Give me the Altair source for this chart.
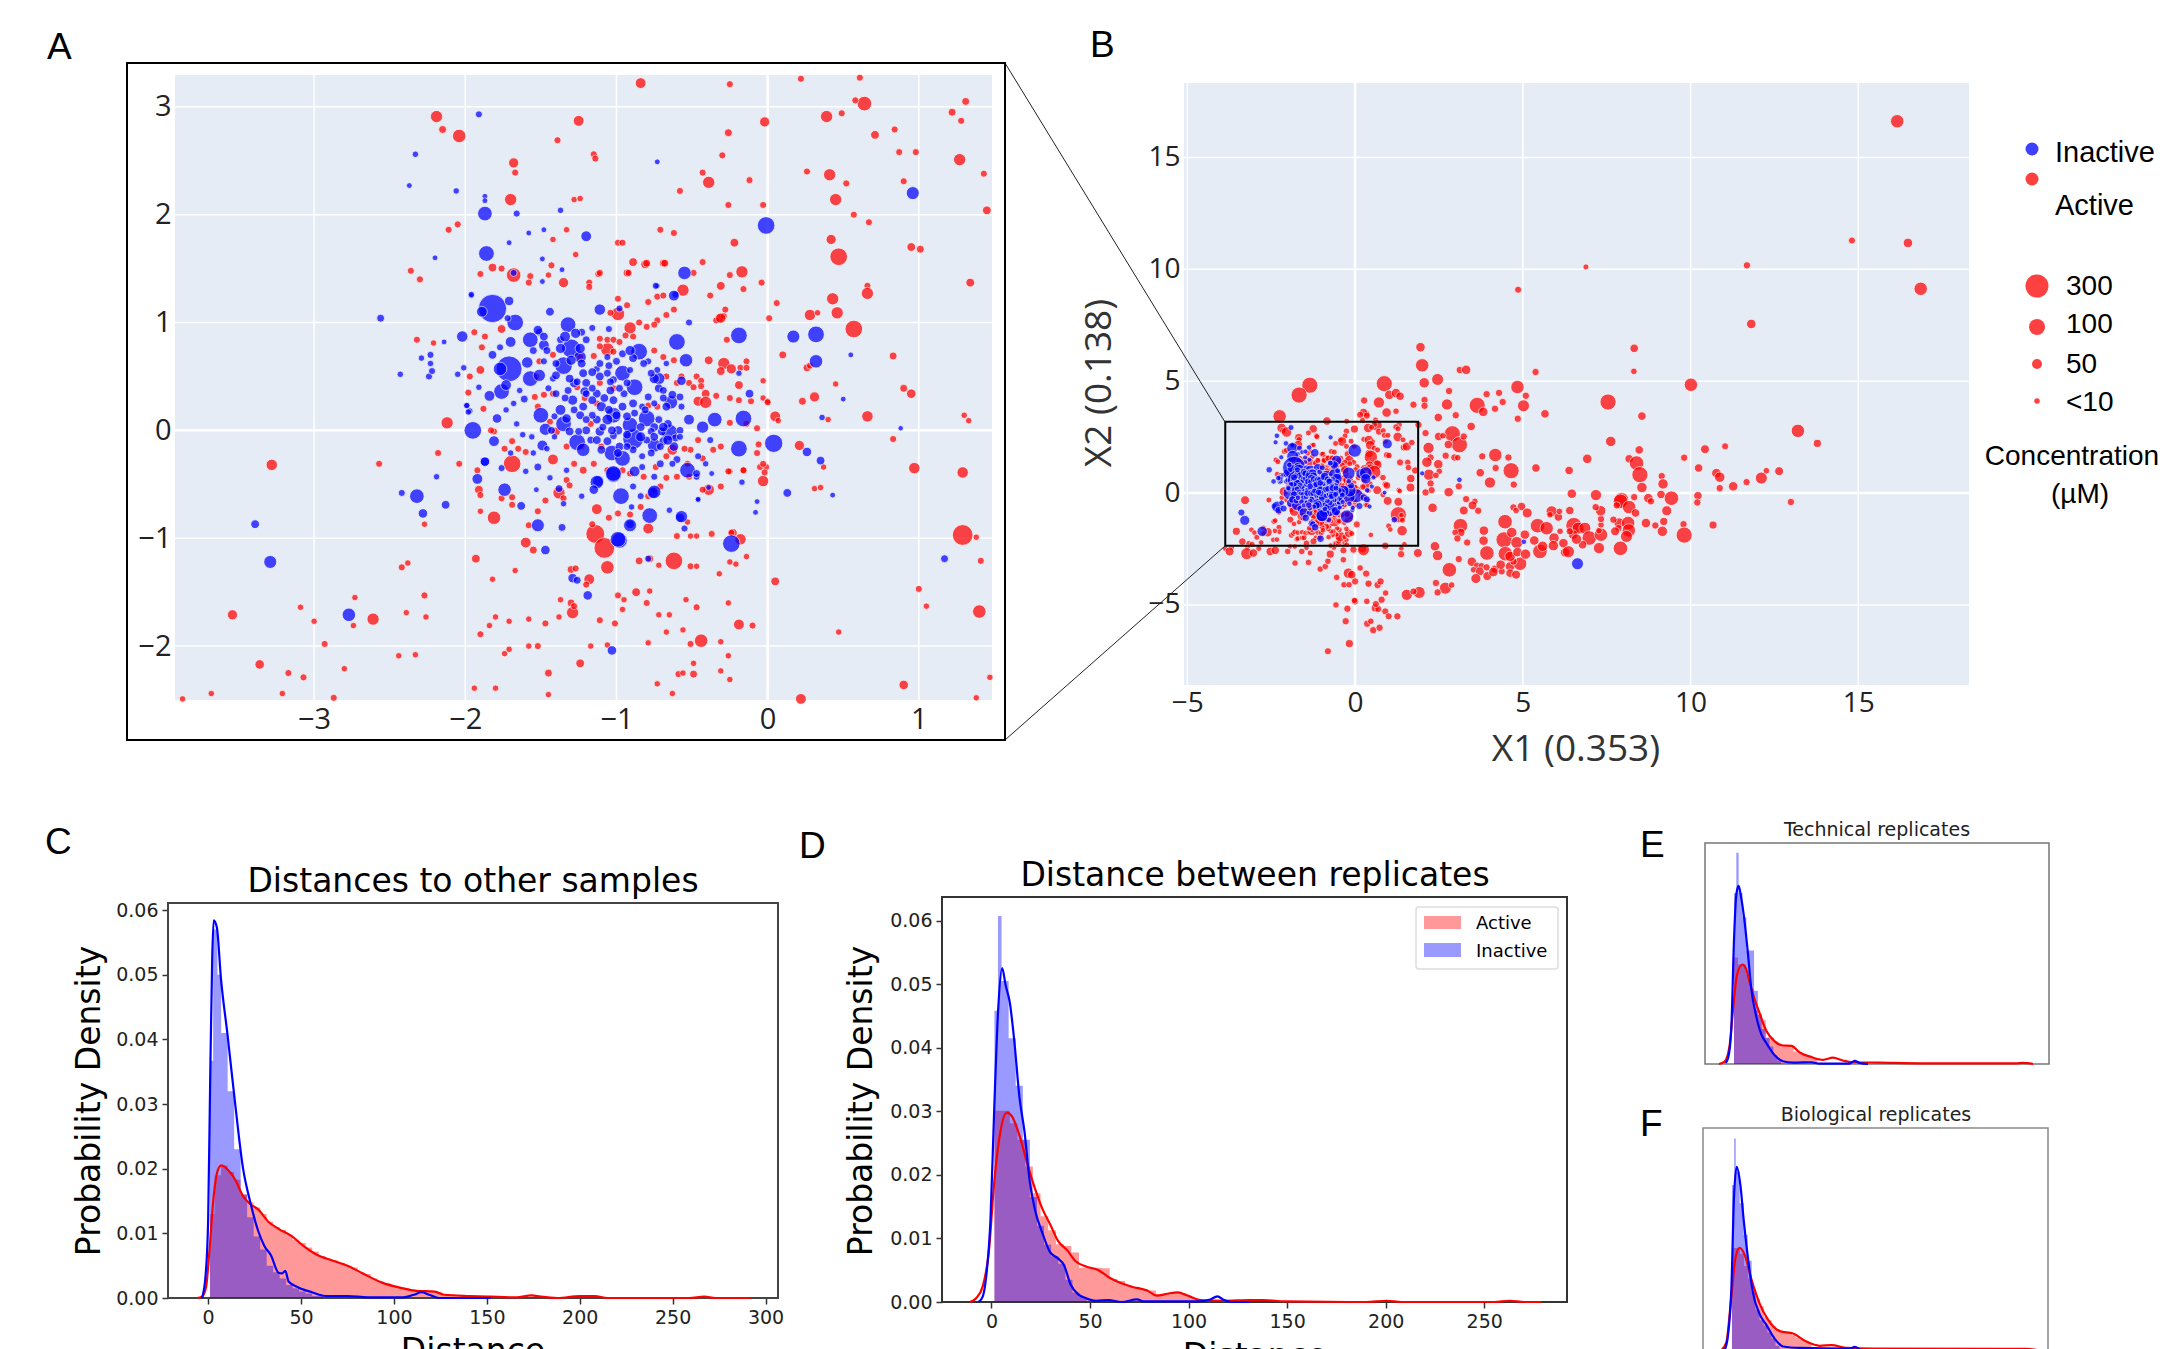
import altair as alt
import pandas as pd

W, H = 2152, 1341
RED, BLUE = "#ff0000", "#0000ff"
PANEL_BG = "#E5ECF6"

# ---------- panel A/B : embedding points (X1, X2, concentration) ----------
window_active = [
(-.84,3.22,20),(-.25,3.21,10),(.22,3.26,10),(.61,3.27,10),(.64,3.03,35),(.58,3.06,10),(.39,2.91,25),(.49,2.94,10),(1.31,3.05,12),(1.22,2.95,12),(1.28,2.87,10),
(-2.19,2.91,25),(-2.15,2.79,12),(-2.04,2.73,30),(-1.25,2.87,20),(-1.39,2.69,10),(-.02,2.86,18),(-.26,2.76,12),(.71,2.74,14),(.84,2.79,10),(.87,2.58,10),(.98,2.58,10),(1.27,2.51,25),(1.43,2.38,10),
(-1.15,2.56,10),(-1.14,2.52,10),(-1.68,2.48,18),(-1.67,2.39,10),(-.3,2.55,10),(-.43,2.39,10),(-.39,2.30,25),(-.12,2.32,10),(.26,2.40,10),(.41,2.37,25),(.52,2.29,10),(.45,2.14,25),(.9,2.31,10),(-.58,2.22,10),(-1.7,2.14,25),(-1.28,2.14,8),(-1.24,2.15,8),(-.26,2.09,10),(-.03,2.09,10),(.57,2.0,10),(.67,1.93,10),(1.45,2.04,14),
(-2.11,1.86,10),(-2.05,1.91,10),(-.71,1.86,10),(-.62,1.83,10),(-1.33,1.86,8),(-1.42,1.77,8),(-.99,1.74,10),(-.96,1.74,10),(-.22,1.74,14),(.42,1.77,18),(.47,1.61,50),(.95,1.70,14),(1.01,1.68,12),
(-2.36,1.48,10),(-2.3,1.40,10),(-1.9,1.45,10),(-1.82,1.51,14),(-1.76,1.5,10),(-1.68,1.44,35),(-1.43,1.53,10),(-1.45,1.44,8),(-1.27,1.63,8),(-1.12,1.45,10),(-.89,1.56,14),(-.81,1.54,14),(-.69,1.55,12),(-.43,1.56,10),(-.93,1.46,12),(-.25,1.44,10),(-.17,1.47,25),(-.04,1.37,10),(-.31,1.34,14),(-.16,1.31,10),(-.56,1.30,25),(1.34,1.37,14),(.66,1.34,10),(.66,1.27,25),(.43,1.22,25),(.06,1.18,10),
(.28,1.07,22),(.33,1.09,8),(.46,1.09,25),(.57,.94,50),(.01,1.04,10),(-.32,1.04,14),(-.29,1.06,10),(-2.32,.84,10),(-2.21,.81,8),(-.27,.84,10),(.1,.7,12),(.83,.69,12),(.26,.58,12),(.28,.6,10),(-.39,.65,14),(-.29,.62,25),(-.31,.55,14),(-.24,.57,18),(-.14,.64,10),(-.18,.58,10),(-.14,.58,10),(-.03,.46,8),(.45,.43,8),(.9,.39,12),(.95,.34,16),(.31,.31,18),(.23,.27,12),(-.03,.3,8),(0,.27,8),(.05,.13,20),(.07,.09,8),(.66,.13,22),(.4,.1,8),(1.3,.14,8),(1.33,.09,8),(.83,-.08,10),(.21,-.14,18),(.97,-.35,22),(1.29,-.39,22),(-.03,-.47,22),(-.05,-.34,10),(-.01,-.34,10),(-.02,-.39,10),(.37,-.34,8),(.31,-.54,8),(.35,-.53,8),(-.25,-.38,8),(1.29,-.97,75),(1.38,-.99,8),(1.41,-1.21,10),(1.0,-1.47,10),(1.05,-1.63,8),(1.4,-1.68,30),(.05,-1.40,14),(.47,-1.87,8),(.9,-2.36,16),(1.47,-2.29,8),(1.38,-2.48,8),(.22,-2.49,20),
(-3.28,-.32,22),(-2.57,-.31,10),(-2.18,-.21,10),(-2.04,-.31,10),(-2.12,.07,25),(-1.69,-.31,50),(-1.91,-.55,14),(-1.9,-.6,10),(-2.27,-.87,8),(-1.9,-.75,8),(-1.81,-.81,30),
(-1.93,-1.19,14),(-2.42,-1.27,10),(-2.38,-1.23,8),(-1.82,-1.38,8),(-1.67,-1.3,8),(-1.6,-1.04,20),(-1.55,-1.11,12),(-2.73,-1.55,8),(-2.27,-1.53,10),(-2.26,-1.73,8),(-2.39,-1.69,8),(-3.09,-1.64,8),(-3.0,-1.77,8),(-3.54,-1.71,18),(-2.61,-1.75,25),(-2.74,-1.81,8),(-2.93,-1.98,10),(-3.36,-2.17,16),(-3.17,-2.25,10),(-3.07,-2.29,10),(-2.8,-2.21,8),(-2.44,-2.09,8),(-2.33,-2.08,8),(-3.87,-2.49,8),(-3.68,-2.44,8),(-3.21,-2.44,8),(-2.87,-2.48,10),(-1.94,-2.39,8),(-1.8,-2.39,8),(-1.9,-1.89,10),(-1.84,-1.81,8),(-1.8,-1.73,8),(-1.71,-1.77,8),(-1.58,-1.75,8),(-1.47,-1.79,10),(-1.38,-1.73,8),(-1.29,-1.69,25),(-1.3,-1.6,12),(-1.28,-1.63,10),(-1.37,-1.57,8),(-1.11,-1.76,10),(-1.01,-1.79,10),(-1.74,-2.07,8),(-1.71,-2.03,8),(-1.58,-2,8),(-1.52,-2,10),(-1.17,-2,8),(-1.06,-1.99,8),(-1.24,-2.16,14),(-1.45,-2.25,12),(-1.45,-2.45,8),(-.63,-2.44,8),(-.73,-2.35,8),(-.59,-2.26,10),(-.56,-2.25,8),(-.49,-2.26,12),(-.49,-2.16,8),(-.31,-2.23,8),(-.26,-2.09,8),(-.25,-2.31,8),(-.51,-1.98,10),(-.44,-1.95,30),(-.31,-1.96,8),(-.56,-1.85,8),(-.67,-1.87,8),(-.79,-1.97,8),(-.19,-1.8,20),(-.1,-1.81,10),(-.26,-1.6,8),(-.47,-1.64,10),(-.54,-1.57,8),(-.65,-1.71,8),(-.72,-1.71,8),(-.8,-1.6,10),(-.78,-1.49,8),(-.87,-1.5,14),(-.95,-1.57,8),(-.99,-1.53,10),(-.96,-1.66,8),(-.32,-1.33,8),(-.21,-1.24,8),(-.14,-1.17,8),(-.25,-1.22,8),
(-.62,-1.21,50),(-.51,-1.26,10),(-.47,-1.26,8),(-.72,-1.25,8),(-.85,-1.21,12),(-.78,-1.19,12),(-1.14,-.96,60),(-1.08,-1.09,75),(-1.06,-1.27,30),(-1.3,-1.29,12),(-1.27,-1.28,10),(-1.18,-1.38,20),(-1.2,-1.43,10),(-.18,-1.01,22),(-.23,-.95,14),(-.51,-.98,8),(-.47,-.98,8),(-.53,-.85,8),
(-1.94,.91,10),(-1.87,.87,10),(-1.89,.77,10),(-1.76,.94,14),(-1.90,.56,14),(-1.97,.50,10),(-1.98,.35,10),(-1.88,.20,10),(-1.81,-.01,10),(-1.83,0,10),(-1.69,-.10,10),(-1.65,-.17,10),(-1.6,-.2,10),(-1.74,-.17,10),(-1.92,-.37,10),(-1.69,-.62,10),(-1.69,-.69,10),(-1.76,-.63,10),(-1.58,-.88,10),(-1.52,-.75,10),(-1.47,-.65,10),(-1.38,-.58,25),(-1.35,-.63,10),(-1.33,-.46,10),(-1.31,-.51,10),(-1.16,-.87,10),(-1.13,-.73,20),(-1.05,-.81,10),(-.99,-.77,10),(-.91,-.78,10),(-.84,-.71,10),(-.79,-.91,20),(-.6,-.98,10),(-.37,-.96,10),(-.24,-.95,10),
(-1.42,.70,10),(-1.51,.64,10),(-1.53,.50,10),(-1.48,.33,10),(-1.54,.31,10),(-1.52,.22,10),(-1.44,.08,10),(-1.40,-.01,14),(-1.42,-.27,20),(-1.22,-.37,12),(-1.28,-.31,10),(-1.33,-.15,10),(-1.23,-.15,10),(-1.10,-.15,10),(-1.15,-.31,10),(-1.06,-.37,10),(-.96,-.37,10),(-.91,-.40,10),(-.82,-.43,10),(-.74,-.34,10),(-.67,-.24,10),(-.63,-.18,20),(-.67,-.44,10),(-.6,-.43,10),(-.71,-.52,10),(-.75,-.55,10),(-.79,-.61,10),(-.39,-.55,22),(-.43,-.55,10),(-.31,-.52,10),(-.26,-.38,10),(-.16,-.37,10),(-.31,-.15,10),(-.36,-.18,10),(-.46,-.09,10),(-.51,-.18,10),(-.55,-.17,10),(-.53,-.31,10),(-.43,-.26,10),(-.52,-.43,10),
(-.91,.95,25),(-.99,1.08,30),(-1.04,1.09,10),(-.93,1.16,10),(-.99,1.22,10),(-1.06,.75,30),(-1.11,.78,10),(-1.02,.73,10),(-.79,1.19,10),(-.73,1.24,10),(-.69,1.25,10),(-.62,1.12,10),(-.67,1.07,10),(-.73,1.02,10),(-.75,.98,10),(-.8,.96,10),(-.85,1.0,10),(-.94,.88,10),(-.89,.87,10),(-1.11,.85,10),(-1.06,.84,10),(-1.02,.84,10),(-.98,.82,10),(-1.15,.69,10),(-1.24,.68,10),(-.75,.74,10),(-.69,.68,10),(-.62,.65,10),(-.67,.50,10),(-.6,.44,10),(-.52,.44,10),(-.57,.5,10),(-.73,.22,10),(-.79,.23,10),(-1.42,.34,10),(-1.26,.40,10),(-1.13,.25,10),(-1.21,.3,10),(-1.17,.06,10),(-1.11,.44,10),(-1.02,.39,10),
(-.47,.5,10),(-.44,.46,10),(-.44,.41,10),(-.49,.4,10),(-.41,.34,14),(-.46,.27,18),(-.41,.26,25),(-.34,.32,10),(-.25,.3,10),(-.19,.28,10),(-.19,.42,14),(-.11,.27,10),(0,.26,10),(-.07,.02,10),(-.14,.06,10),(-.25,.07,10),(-.16,-.37,10),(-.03,-.31,10),(-.06,-.13,10),(-.07,-.21,10),(-1.57,1.43,10),(-1.58,1.37,10),(-1.35,1.37,18),(-1.18,1.37,10),(-1.18,1.33,10),(-1.11,1.46,10),(-.92,1.46,10),(-.8,1.55,12),(-.68,1.55,12),(-.49,1.46,10),(-.38,1.25,10),(-.28,1.12,10),(-.34,1.02,10),(-.31,1.04,18),
]
window_inactive = [
(-1.91,2.93,10),(-2.33,2.56,8),(-2.37,2.27,6),(-2.06,2.22,8),(-.73,2.49,6),(-1.87,2.17,6),(-1.87,2.13,6),(-1.87,2.01,35),(-1.66,2.01,10),(-1.37,2.04,8),(-.01,1.9,50),(-1.2,1.8,20),(-1.58,1.83,6),(-1.48,1.86,6),(-1.71,1.74,6),(-2.2,1.6,6),(-1.86,1.64,40),(-1.49,1.59,6),(-1.36,1.49,6),(-1.49,1.38,6),(-1.68,1.46,10),(-.55,1.46,30),(-.73,1.34,6),(-.61,1.26,10),(.96,2.2,28),(-2.56,1.04,12),(-1.96,1.25,6),
(-.19,.88,45),(.17,.87,28),(.32,.89,45),(.32,.64,30),(.55,.7,6),(.5,.29,6),(.36,.12,8),(.88,.02,5),(.04,-.12,55),(-.19,-.17,45),(-.16,.11,45),(-.12,.34,14),(.26,-.2,16),(.35,-.28,14),(.43,-.6,6),(.13,-.58,14),(1.17,-1.19,12),(-.24,-1.05,50),(-.08,-.76,6),(-.07,-.66,6),(-.17,-.48,8),(-.39,-.53,6),(-.46,-.64,6),(-.53,-.37,40),(-.47,-.43,10),
(-3.39,-.87,14),(-3.29,-1.22,28),(-2.77,-1.71,30),(-2.42,-.58,10),(-2.32,-.61,35),(-2.28,-.77,16),(-2.13,-.69,14),(-2.19,-.43,8),(-2.43,.52,8),(-2.24,.5,10),(-2.22,.55,10),(-2.23,.62,8),(-2.23,.7,10),(-2.29,.67,8),(-2.14,.82,6),(-2.02,.87,22),(-2.05,.52,8),(-2.01,.58,8),(-1.99,.23,6),(-1.97,.18,8),(-1.95,0,50),(-1.87,-.29,16),(-1.92,-.45,20),(-1.74,-.55,30),(-1.63,-.7,14),(-1.52,-.88,28),(-1.36,-.9,12),(-1.47,-1.11,16),(-1.29,-1.37,16),(-1.26,-1.39,12),(-1.19,-1.53,16),(-1.03,-2.04,16),(-.79,-1.19,10),(-.98,-1.02,40),(-.91,-.87,14),(-.78,-.79,40),(-.58,-.81,16),(-.55,-.91,10),(-.97,-.61,45),(-.76,-.58,22),(-1.12,-.47,22),(-1.02,-.41,40),
(-1.82,1.13,300),(-1.89,1.10,20),(-1.71,1.2,16),(-1.67,1.0,45),(-1.57,.84,40),(-1.48,.79,20),(-1.44,1.1,14),(-1.32,.98,40),(-1.11,1.12,22),(-1.3,.76,60),(-1.24,.68,25),(-1.35,.6,50),(-1.71,.57,200),(-1.77,.57,30),(-1.59,.63,22),(-1.57,.48,40),(-1.51,.51,25),(-1.76,.36,40),(-1.73,.42,20),(-1.84,.32,20),(-1.79,.11,16),(-1.61,.29,12),(-1.5,.14,40),(-1.35,.06,40),(-1.47,.01,25),(-1.37,.19,20),(-1.26,-.11,45),(-1.22,-.18,30),(-1.49,-.14,20),(-1.81,-.1,20),(-1.52,-.34,12),(-1.87,-.29,16),(-1.76,-.35,10),
(-1.03,-.21,40),(-.96,-.26,40),(-1.02,-.4,40),(-1.13,-.48,30),(-1.15,-.55,16),(-.88,-.38,20),(-.75,-.57,30),(-.91,-.88,28),(-.99,-1.01,40),(-.88,.4,45),(-.85,.73,45),(-.6,.82,45),(-.54,.65,30),(-.96,.53,40),(-1.02,.14,40),(-.8,.11,45),(-.89,-.08,75),(-.91,.05,40),(-.75,-.14,30),(-.65,-.02,45),(-.64,.26,30),(-.72,.48,25),(-.57,.46,16),(-.62,1.25,20),(-.74,1.34,10),(-.35,.1,35),(-.43,.03,25),(-.52,.1,20),
(-1.2,.44,14),(-1.11,.5,14),(-1.04,.37,14),(-1.13,.34,14),(-1.21,.36,16),(-1.28,.44,16),(-1.29,.28,18),(-1.22,.22,14),(-1.28,.19,12),(-1.1,.22,18),(-1.16,.28,14),(-1.02,.28,14),(-.95,.34,12),(-1.06,.1,20),(-1.13,.1,14),(-1.11,-.01,16),(-1.2,0,14),(-1.17,-.09,12),(-.99,0,16),(-.93,-.04,14),(-1.02,-.05,12),(-1.1,-.18,14),(-.84,.03,14),(-.75,.03,14),(-.7,-.01,14),(-.72,.1,12),(-.8,-.09,12),(-.69,-.1,14),(-.61,-.07,12),(-.62,-.15,16),(-.66,.06,14),(-.58,0,12),(-.79,.31,12),(-.72,.39,14),(-.75,.25,10),(-.83,.22,10),(-.89,.25,14),(-.96,.22,14),(-.93,.44,12),(-1.02,.47,12),(-1.06,.53,12),(-1.13,.57,10),(-1.22,.53,14),(-1.26,.45,12),(-1.32,.37,12),(-1.4,.34,12),(-1.45,.39,10),(-1.42,.48,10),(-1.4,.62,12),(-1.46,.74,12),(-1.51,.91,12),(-1.55,.74,12),(-1.48,.64,10),(-1.2,.84,12),(-1.16,.95,10),(-1.23,.91,12),(-1.37,.84,12),(-1.06,.68,10),(-1,.64,12),(-.91,.56,10),(-.79,.64,10),(-.73,.56,10),(-.67,.62,8),(-.89,.67,14),(-1.05,.94,10),(-.98,1.13,10),(-.52,1.0,10),(-1.7,.82,20),(-1.77,.77,10),(-1.82,.7,14),(-1.96,1.26,8),(-1.72,1.04,10),(-1.91,.4,8),(-1.98,.17,8),(-1.99,.23,8),(-1.64,.37,8),(-1.68,.25,8),(-1.73,.19,8),(-1.66,.06,8),(-1.62,-.04,8),(-1.56,-.06,8),(-1.55,-.21,8),(-1.46,-.17,8),(-1.41,-.06,8),(-1.6,-.38,8),(-1.7,-.21,8),(-1.44,-.44,8),(-1.33,-.37,8),(-1.23,-.61,8),(-1.35,-.68,8),(-1.53,-.55,6),(-1.38,-.54,12),(-.89,-.52,10),(-.84,-.61,10),(-.9,-.71,8),(-.65,-.74,8),(-.57,-.8,25),(-.47,-.4,12),(-.41,-.31,8),(-.46,-.24,10),(-.38,-.09,10),(-.46,-.64,6),(-.37,-.4,6),(-.6,-.27,12),(-.63,-.31,10),(-.71,-.31,12),(-.77,-.21,12),(-.83,-.24,10),(-.75,-.43,10),(-.83,-.34,10),(-.19,.53,8),
(-1.52,.93,16),(-1.48,.87,14),(-1.34,.87,20),(-1.27,.9,18),(-1.37,.76,18),(-1.24,.76,18),(-1.3,.65,18),(-1.4,.51,14),(-1.31,.48,14),(-1.23,.62,14),(-1.16,.54,14),(-1.11,.62,12),(-.96,.71,12),(-1.05,.6,12),(-.91,.74,18),(-.82,.62,12),(-.75,.48,18),(-.69,.37,12),(-.63,.33,14),(-.58,.31,12),(-.69,.3,12),(-.98,.39,12),(-1.08,.3,14),(-1.24,.14,14),(-1.33,.11,16),(-1.41,.13,10),(-1.43,0,12),(-1.31,-.01,14),(-1.25,-.01,12),(-1.13,-.09,14),(-1.06,-.1,14),(-.98,-.15,14),(-.89,-.18,12),(-.93,-.15,12),(-.99,-.21,14),(-.84,-.06,18),(-.77,-.01,12),(-.75,-.06,14),(-.69,.03,16),(-.66,-.09,18),(-.71,-.15,12),(-.58,-.06,10),(-1,.14,14),(-.93,.13,14),(-1.16,.14,12),(-1.2,.1,12),(-1.05,.19,14),(-.88,.16,12),(-.81,.19,12),(-.67,.22,14),(-.57,.22,10),(-1.03,0,14),(-1.09,.03,12),(-1.2,.34,12),(-1.34,.3,12),(-1.16,.39,12),(-1.04,.45,12),(-.77,.53,12),
]
outer_active = [
(1.95,6.52,25),(2.0,5.71,50),(3.12,5.5,15),(3.31,5.51,25),(2.46,5.08,40),(2.06,4.93,30),(.87,4.89,75),(2.8,4.56,15),(1.02,4.39,25),(1.22,4.47,25),(1.34,4.33,20),(.27,4.14,15),(.71,4.05,35),(1.74,3.95,15),(2.07,4.16,15),(2.07,3.9,15),(2.74,3.96,35),(3.64,3.92,75),(3.82,3.63,25),(3.92,4.42,15),(4.29,4.48,15),(4.4,4.07,15),(4.17,3.77,15),(4.84,4.74,50),(5.09,4.35,15),(5.02,3.9,40),(5.66,3.54,20),(4.85,3.32,15),(5.38,5.41,15),(.94,3.6,25),(1.22,3.66,12),(.35,3.54,12),(2.48,3.38,20),(3,3.48,15),(7.54,4.07,75),(8.32,6.47,20),(8.31,5.44,12),(8.55,3.44,20),
(3.46,2.98,20),(2.1,2.68,15),(2.9,2.65,75),(3.11,2.16,75),(3.24,2.53,15),(2.49,2.53,20),(2.62,2.56,12),(2.78,2.17,20),(2.19,2.02,35),(2.7,1.67,15),(2.96,1.59,15),(3.06,1.58,12),(2.25,1.59,15),(2.14,1.38,30),(2.48,1.29,25),(3.79,1.64,15),(4.18,1.7,50),(4.57,1.59,15),(4.19,1.12,15),(3.73,.91,20),(4.65,1.0,75),(5.39,1.12,20),(4.02,.47,35),(4.73,.38,15),(3.09,.3,15),(2.2,.82,35),(2.51,.97,12),(2.41,.79,12),(2.25,.43,15),(2.28,.13,15),(2.1,.03,15),(2.79,.04,25),(1.66,.65,20),(1.79,1.01,15),(1.65,.25,22),(6.38,1.01,20),(6.92,1.53,25),(7.62,2.31,30),(8.47,1.93,20),(8.17,1.53,20),(8.39,1.34,60),(8.49,.82,75),(9.14,.76,15),(9.18,.41,30),(8.55,.25,30),(9.12,-.06,20),(9.43,-.23,60),(6.46,-.03,25),(7.18,-.09,35),(7.94,-.3,60),(8.32,-.18,15),(8.74,-.23,25),
(10.24,1.12,20),(10.77,.89,25),(10.87,.71,30),(10.87,.22,15),(11.27,.3,25),(11.67,.49,15),(10.22,-.12,20),(10.2,-.42,15),
(3.31,-.27,15),(3.57,-.37,12),(3.5,-.55,22),(3.67,-.79,15),(3.24,-.78,22),(2.31,-.66,25),(4.72,-.64,15),(4.96,-.6,20),(4.8,-.78,12),(5.13,-.89,28),(4.47,-1.28,60),(3.14,-1.46,60),(3.15,-1.76,20),(2.98,-1.76,12),(3.05,-2.03,15),(3.84,-1.68,25),(3.83,-2.13,25),(3.34,-2.21,15),(2.38,-2.38,25),(2.46,-2.79,30),(3.09,-2.95,15),(3.93,-2.68,60),(2.81,-3.43,60),(2.41,-4.02,15),(2.69,-4.25,40),(2.88,-4.11,12),(2.46,-4.44,15),
(3.48,-3.07,25),(3.64,-3.25,15),(3.77,-3.25,12),(3.53,-3.43,12),(3.72,-3.5,22),(3.6,-3.82,28),(3.94,-3.71,22),(3.92,-3.32,15),(4.17,-3.4,18),(4.12,-3.53,25),(4.37,-3.5,15),(4.34,-3.2,25),(4.62,-3.28,25),(4.62,-3.58,20),(4.8,-3.65,22),(4.92,-3.16,50),(4.72,-3.06,15),
(4.44,-2.09,75),(4.67,-1.76,30),(4.82,-2.21,40),(4.48,-2.71,60),(4.62,-2.83,30),(4.84,-2.64,25),(5.08,-2.73,30),(5.06,-1.86,25),(5.34,-2.12,25),(5.51,-2.61,60),(5.59,-2.38,30),(5.44,-1.46,60),(5.71,-1.57,50),(5.86,-.82,35),(5.81,-.97,12),(6.06,-1.07,20),(6.09,-.82,12),(5.93,-2.01,30),(5.91,-2.35,30),(6.21,-2.24,25),(6.11,-1.71,12),(6.26,-2.65,25),(6.36,-2.62,40),(6.52,-1.45,75),(6.65,-1.57,40),(6.5,-1.86,25),(6.85,-1.57,40),(6.98,-2.01,60),(6.78,-2.31,20),(6.4,-1.71,15),(6.6,-2.06,30),(7.33,-1.86,50),(7.27,-2.46,35),(7.27,-1.68,12),(7.33,-1.42,12),(7.33,-1.16,15),(7.32,-.79,30),(7.17,-.63,15),(6.4,-.78,20),
(7.91,-.37,60),(8.17,-.63,50),(7.8,-.55,15),(8.36,-.89,20),(8.82,-.37,15),(9.29,-.79,28),(7.87,-1.34,30),(8.14,-1.34,50),(8.16,-1.67,50),(7.85,-1.57,15),(7.75,-1.71,22),(7.7,-1.19,15),(8.09,-1.94,40),(7.91,-2.47,60),(8.67,-1.34,25),(8.95,-1.45,15),(9.2,-1.27,18),(9.16,-1.71,30),(9.79,-1.39,15),(9.81,-1.88,75),(10.67,-1.43,18),
(16.16,16.62,50),(16.86,9.13,50),(16.48,11.18,25),(14.81,11.29,14),(11.68,10.18,15),(11.81,7.56,25),(6.88,10.11,10),(4.86,9.09,14),(10.01,4.84,50),(13.2,2.78,50),(13.78,2.22,18),(11.03,2.09,14),(10.43,1.96,22),(9.81,1.58,15),(12.11,.67,40),(12.26,1,12),(12.64,.98,22),(12.99,-.4,15),
(-3.74,-2.61,22),(-3.23,-2.71,40),(-3.03,-2.68,20),(-2.53,-2.61,20),(-2.38,-2.56,20),(-2.01,-2.61,12),(-1.79,-3.13,12),(-1.59,-2.61,12),(-1.39,-3.1,12),(-1.34,-2.68,10),(-1.04,-3.4,12),(-.89,-3.28,12),(-.81,-3.05,12),(-.74,-2.73,18),(-.35,-2.56,14),(-.35,-2.98,12),(-.2,-3.58,30),(-.1,-3.65,20),(0,-3.95,15),(-.55,-3.77,12),(-.33,-4.1,12),(-.18,-4.1,12),(-.05,-2.53,15),(.25,-2.53,40),(.15,-3.35,12),(.33,-3.6,15),(.4,-4.05,15),(.67,-4.11,15),(.76,-3.95,15),(0,-4.84,15),(.35,-4.84,12),(-.57,-5,12),(-.23,-5.17,15),(.6,-5.14,18),(.79,-4.77,15),(.91,-4.47,12),(1.37,-2.73,15),(1.87,-2.68,22),(1.54,-4.55,35),(1.91,-4.44,40),(1.74,-4.4,14),
(-.81,-7.07,14),(-.17,-6.73,18),(-.28,-5.73,15),(.36,-5.84,15),(.54,-6.13,15),(.73,-6.02,15),(.47,-5.73,12),(1.26,-5.51,15),(.9,-5.29,14),(.69,-5.18,14),(.62,-4.96,14),(1.0,-5.51,14),(-.02,-4.8,12),
(1.54,2.08,22),(1.69,2.26,12),(1.57,1.37,12),(1.59,1.14,12),(1.89,3.05,15),(-2.25,3.43,50),(-1.35,4.82,75),(-1.67,4.38,75),(.25,3.6,20),(.15,3.5,14),(.35,3.46,14),
]
outer_inactive = [(3.11,.59,8),(2.0,.88,6),(6.63,-3.16,40),(5.03,-2.18,8)]

# ---------- panels C-F : density curves and histograms ----------
c_blue_x = [-3.3,-1.4,0,1.1,2.2,3,4.7,6.9,10.4,14.6,18.7,22.8,26.9,30.2,33.8,37.9,39.8,41.5,43.4,48.9,55.8,64,75,86,105,110.7,114.8,119,124.5,152]
c_blue_y = [0,.0034,.012,.0337,.0527,.0584,.0573,.0494,.0408,.0299,.0202,.0147,.0104,.0081,.0066,.0039,.0038,.0042,.0025,.0016,.0009,.0003,.0003,.0001,.0001,.0005,.0009,.0005,0,0]
c_red_x = [-6,-3.3,-1.1,.8,3,5,7.1,10.4,14.6,18.7,22.8,26.9,32.4,37.9,44.8,51.6,58.5,66.8,75,83.2,94.2,105,112,122,127,141,152,166,174,179,188,200,208,215,259,267,273,292]
c_red_y = [0,.0002,.0017,.0077,.0158,.0196,.0205,.0199,.0183,.0158,.0145,.0137,.0118,.0107,.0096,.008,.0067,.0058,.005,.0038,.0023,.0015,.0011,.001,.0005,.0003,.0002,.0001,.0004,.0002,0,.0003,.0003,0,0,.0002,0,0]
c_blue_edges = [1,2.7,5,7,10.5,14,17.5,21,24.5,28,31.5,35,38.5,42,45.5,49,52.5,56,62]
c_blue_hist = [.0367,.057,.05,.041,.032,.023,.016,.0125,.0095,.0075,.005,.004,.003,.002,.0015,.001,.0007,.0003]
c_red_edges = [1,3.5,7,10.5,14,17.5,21,24.5,28,31.5,35,38.5,42,45.5,49,52.5,56,59.5,63,66.5,70,73.5,77,80.5,84,87.5,91,94.5,98,101.5,105,108.5,112,115.5,119,122.5,126,129.5,133,140]
c_red_hist = [.013,.019,.0205,.0195,.0183,.016,.0148,.014,.013,.0118,.011,.0105,.0098,.009,.0085,.0078,.0072,.0065,.006,.0058,.0054,.005,.0047,.004,.0037,.003,.0026,.0023,.0019,.0016,.0015,.0013,.0011,.001,.001,.0009,.0006,.0005,.0003]

d_blue_x = [-6.5,-4.4,-2.6,-.5,1.3,3.4,5.4,7.2,9.3,11.6,14.2,16.8,19.4,22,25.9,29.8,33.6,36.8,40.1,44,47.9,53,59.5,66,73.8,77.6,105,111,114.6,118,121.6,131]
d_blue_y = [0,.0009,.0042,.013,.0295,.046,.0525,.0498,.0471,.041,.0322,.0267,.019,.0146,.0108,.0078,.0069,.0058,.0028,.0012,.0006,.0002,.0003,0,.0004,.0001,.0001,.0004,.0009,.0003,0,0]
d_red_x = [-11,-7.8,-4.4,-1.3,1.3,3.9,7.8,10.4,14.2,18.1,22,25.9,29.8,33.6,38.8,42.7,47.9,54.3,59.5,64.7,71.2,79,84,89.3,94.5,99.6,106,118,131,138,149,190,200.6,208,255,263,270.4,279]
d_red_y = [0,.0006,.0025,.008,.0185,.0256,.0298,.0292,.0262,.0218,.0179,.0146,.0122,.0097,.008,.0064,.0056,.005,.0039,.0031,.0024,.0018,.001,.0013,.0015,.001,.0003,.0002,.0003,.0003,.0001,0,.0002,0,0,.0002,0,0]
d_blue_edges = [1.5,3.3,5.1,8.7,12.3,15.9,19.5,23.1,26.7,30.3,33.9,37.5,41.1,44.7,48.3]
d_blue_hist = [.0458,.0607,.0505,.0415,.034,.0255,.0165,.012,.009,.0072,.006,.0035,.0015,.0008]
d_red_edges = [1.5,5.4,9.3,13.2,17.1,21,24.9,28.8,32.7,36.6,40.5,44.4,48.3,52.2,56.1,60,63.9,67.8,71.7,75.6,79.5,83.4,87.3,91.2,95.1,99,102.9,106.8,110.7]
d_red_hist = [.0301,.0301,.0281,.0255,.0213,.0171,.0135,.0113,.0091,.0088,.0078,.0054,.0054,.0054,.0053,.0036,.0033,.0026,.0022,.002,.0018,.0012,.0011,.0014,.0014,.0008,.0004,.0002]

e_blue_x = [-6.3,-3.8,-1.1,1.3,3.4,5.5,7.9,11,14,17,21.6,26.1,30.6,38.2,45.7,54.8,71.4,79,106,110.7,115.3,122.8]
e_blue_y = [.0003,.002,.0105,.0355,.0485,.051,.0475,.0405,.0315,.0215,.0135,.0085,.006,.0025,.0008,.0004,.0005,.0001,.0001,.0009,.0003,0]
e_red_x = [-12.3,-7.2,-2.6,.4,4,8.9,11.9,15.5,20,24.6,30.6,38.2,45.7,53.3,60.9,71.4,82,91,100,109,133,170,257,263.4,272.5]
e_red_y = [0,.0007,.0055,.0155,.0255,.0285,.0275,.0235,.0185,.0145,.0095,.0065,.0053,.0052,.0033,.002,.0012,.0018,.001,.0005,.0004,.0002,.0002,.0003,0]
e_blue_edges = [1.3,3.4,5.5,9,12.5,16,19.5,23,26.5,30,33.5,37,40.5,44]
e_blue_hist = [.049,.0605,.049,.042,.0325,.0325,.021,.014,.01,.0075,.005,.0025,.001]
e_red_edges = [1.3,4.9,8.5,12.1,15.7,19.3,22.9,26.5,30.1,33.7,37.3,40.9,44.5,48.1,51.7,55.3,58.9,62.5,66.1,69.7,73.3,76.9]
e_red_hist = [.0305,.0285,.0285,.0255,.0215,.0155,.0145,.0125,.0075,.0075,.0065,.0058,.0052,.0052,.0048,.0036,.003,.0026,.0022,.002,.0016]

f_blue_x = [-5.4,-2.4,.6,3.1,5.5,8.8,11.8,15.7,20.3,26.3,32.3,39.9,47.4,62.5,107.8,112.3,116.8]
f_blue_y = [0,.0042,.0172,.0442,.0524,.0472,.0372,.0262,.0162,.0102,.0072,.0032,.001,.0006,.0004,.0009,.0002]
f_red_x = [-8.4,-3.9,.6,4.3,8.2,12.7,18.8,26.3,33.8,44.4,56.5,68.5,80.6,91.2,104.8,128.9,268,277]
f_red_y = [0,.0022,.0152,.0262,.0292,.0272,.0202,.0132,.0087,.0054,.0047,.0024,.0012,.0014,.0006,.0004,.0003,0]
f_blue_edges = [1.2,3.2,4.6,8.2,11.8,15.4,19,22.6,26.2,29.8,33.4,37,40.6,44.2]
f_blue_hist = [.0472,.0605,.051,.042,.033,.0255,.0165,.0115,.0085,.007,.005,.0032,.0012]
f_red_edges = [1.2,4.8,8.4,12,15.6,19.2,22.8,26.4,30,33.6,37.2,40.8,44.4,48,51.6,55.2,58.8,62.4,66,69.6,73.2]
f_red_hist = [.0292,.0292,.0275,.024,.0205,.0172,.0145,.0125,.0095,.0085,.0068,.006,.0052,.005,.0048,.0042,.0035,.003,.0025,.002]

# ---------- ticks ----------
a_xticks = [-3,-2,-1,0,1]
a_yticks = [-2,-1,0,1,2,3]
b_xticks = [-5,0,5,10,15]
b_yticks = [-5,0,5,10,15]
c_xticks = [0,50,100,150,200,250,300]
d_xticks = [0,50,100,150,200,250]
dens_yticks = [0,.01,.02,.03,.04,.05,.06]

SIZE_DOMAIN = [5,10,25,50,75,100,300]
A_SIZE = [30,50,150,310,430,540,800]
B_SIZE = [24,36,90,180,260,340,529]


def px(v):
    return v - 8


def py(v):
    return v - 8


def pts(rows):
    return pd.DataFrame(rows, columns=["x", "y", "c"])


def rect_px(x0, x1, y0, y1, **kw):
    return alt.Chart(pd.DataFrame({"k": [0]})).mark_rect(**kw).encode(
        x=alt.value(px(x0)), x2=alt.value(px(x1)), y=alt.value(py(y0)), y2=alt.value(py(y1)))


def text_px(s, x, y, size, font, color="#000000", align="left", angle=0):
    return alt.Chart(pd.DataFrame({"t": [s]})).mark_text(
        font=font, fontSize=size, color=color, align=align, baseline="alphabetic", angle=angle
    ).encode(x=alt.value(px(x)), y=alt.value(py(y)), text="t:N")


def hline_px(x0, y0, x1, y1):
    return alt.Chart(pd.DataFrame({"k": [0]})).mark_rule(color="#222222", strokeWidth=1).encode(
        x=alt.value(px(x0)), x2=alt.value(px(x1)), y=alt.value(py(y0)), y2=alt.value(py(y1)))


def scatter_panel(active, inactive, xdom, ydom, xr, yr, xticks, yticks, sizes, lab, xlab_pad, ylab_pad, extra=None):
    X = alt.Scale(domain=xdom, range=[px(xr[0]), px(xr[1])], nice=False, zero=False)
    Y = alt.Scale(domain=ydom, range=[py(yr[1]), py(yr[0])], nice=False, zero=False)
    S = alt.Scale(domain=SIZE_DOMAIN, range=sizes)
    xaxis = alt.Axis(values=xticks, orient="bottom", offset=py(yr[1]) - H, domain=False, ticks=False, grid=False,
                     labelFont="Open Sans", labelFontSize=lab, labelColor="#222222", labelPadding=xlab_pad, format="d", title=None, labelFlush=False, labelOverlap=False)
    yaxis = alt.Axis(values=yticks, orient="left", offset=-px(xr[0]), domain=False, ticks=False, grid=False,
                     labelFont="Open Sans", labelFontSize=lab, labelColor="#222222", labelPadding=ylab_pad, format="d", title=None, labelFlush=False, labelOverlap=False)
    bg = alt.Chart(pd.DataFrame({"a": [xdom[0]], "b": [xdom[1]], "c": [ydom[0]], "d": [ydom[1]]})).mark_rect(color=PANEL_BG).encode(
        x=alt.X("a:Q", scale=X, axis=xaxis), x2="b:Q",
        y=alt.Y("c:Q", scale=Y, axis=yaxis), y2="d:Q")
    gx = alt.Chart(pd.DataFrame({"v": xticks})).mark_rule(color="#ffffff", strokeWidth=1.5).encode(
        x=alt.X("v:Q", scale=X, axis=xaxis), y=alt.value(py(yr[0])), y2=alt.value(py(yr[1])))
    gy = alt.Chart(pd.DataFrame({"v": yticks})).mark_rule(color="#ffffff", strokeWidth=1.5).encode(
        y=alt.Y("v:Q", scale=Y, axis=yaxis), x=alt.value(px(xr[0])), x2=alt.value(px(xr[1])))
    g0x = alt.Chart(pd.DataFrame({"v": [0]})).mark_rule(color="#ffffff", strokeWidth=2.5).encode(
        x=alt.X("v:Q", scale=X, axis=xaxis), y=alt.value(py(yr[0])), y2=alt.value(py(yr[1])))
    g0y = alt.Chart(pd.DataFrame({"v": [0]})).mark_rule(color="#ffffff", strokeWidth=2.5).encode(
        y=alt.Y("v:Q", scale=Y, axis=yaxis), x=alt.value(px(xr[0])), x2=alt.value(px(xr[1])))

    def dots(rows, col):
        return alt.Chart(pts(rows)).mark_circle(color=col, opacity=0.72, stroke="#ffffff", strokeWidth=0.8).encode(
            x=alt.X("x:Q", scale=X, axis=xaxis), y=alt.Y("y:Q", scale=Y, axis=yaxis),
            size=alt.Size("c:Q", scale=S, legend=None))

    layers = [bg, gx, gy, g0x, g0y, dots(active, RED), dots(inactive, BLUE)]
    if extra:
        layers.append(
            alt.Chart(pd.DataFrame({"a": [extra[0]], "b": [extra[1]], "c": [extra[2]], "d": [extra[3]]}))
            .mark_rect(fill="transparent", stroke="#000000", strokeWidth=2)
            .encode(x=alt.X("a:Q", scale=X, axis=xaxis), x2="b:Q", y=alt.Y("c:Q", scale=Y, axis=yaxis), y2="d:Q"))
    return alt.layer(*layers)


def dens_panel(xdom, ydom, xr, yr, curves, hists, xticks=None, yticks=None, box="#444444", boxw=2):
    X = alt.Scale(domain=xdom, range=[px(xr[0]), px(xr[1])], nice=False, zero=False)
    Y = alt.Scale(domain=ydom, range=[py(yr[1]), py(yr[0])], nice=False, zero=False)
    layers = []
    if xticks:
        xaxis = alt.Axis(values=xticks, orient="bottom", offset=py(yr[1]) - H, domain=False, grid=False, tickSize=6, tickColor="#333333", tickWidth=1.5,
                         labelFont="DejaVu Sans", labelFontSize=19, labelColor="#222222", labelPadding=4, title=None, labelFlush=False, labelOverlap=False, format="d")
        yaxis = alt.Axis(values=yticks, orient="left", offset=-px(xr[0]), domain=False, grid=False, tickSize=6, tickColor="#333333", tickWidth=1.5,
                         labelFont="DejaVu Sans", labelFontSize=19, labelColor="#222222", labelPadding=4, title=None, labelFlush=False, labelOverlap=False, format=".2f")
    else:
        xaxis = None
        yaxis = None

    def bars(edges, vals, col):
        d = pd.DataFrame({"a": edges, "v": list(vals) + [0]})
        return alt.Chart(d).mark_area(color=col, opacity=0.4, interpolate="step-after").encode(
            x=alt.X("a:Q", scale=X, axis=xaxis), y=alt.Y("v:Q", scale=Y, axis=yaxis))

    def line(xs, ys, col):
        d = pd.DataFrame({"x": xs, "y": ys})
        return alt.Chart(d).mark_line(color=col, strokeWidth=2.2, interpolate="monotone").encode(
            x=alt.X("x:Q", scale=X, axis=xaxis), y=alt.Y("y:Q", scale=Y, axis=yaxis))

    base = alt.Chart(pd.DataFrame({"a": [xdom[0]], "b": [xdom[1]], "c": [ydom[0]], "d": [ydom[1]]}))
    frame_rect = base.mark_rect(fill="transparent", stroke=box, strokeWidth=boxw).encode(
        x=alt.X("a:Q", scale=X, axis=xaxis), x2="b:Q", y=alt.Y("c:Q", scale=Y, axis=yaxis), y2="d:Q")
    layers.append(frame_rect)
    for e, v, col in hists:
        layers.append(bars(e, v, col))
    for xs, ys, col in curves:
        layers.append(line(xs, ys, col))
    return alt.layer(*layers)


# panels ------------------------------------------------------------------
a_xdom, a_ydom = [-3.92, 1.484], [-2.5, 3.295]
b_xdom, b_ydom = [-5.1, 18.3], [-8.58, 18.33]

panel_a = scatter_panel(window_active, window_inactive, a_xdom, a_ydom, (175, 992), (75, 700), a_xticks, a_yticks, A_SIZE, 29, 5, 4)
panel_b = scatter_panel(window_active + outer_active, window_inactive + outer_inactive, b_xdom, b_ydom, (1184, 1969), (83, 685), b_xticks, b_yticks, B_SIZE, 28, 4, 4,
                        extra=(-3.87, 1.88, -2.35, 3.19))
panel_c = dens_panel([-21.6, 306.7], [0, .0611], (168, 778), (903, 1298),
                     [(c_red_x, c_red_y, RED), (c_blue_x, c_blue_y, BLUE)],
                     [(c_red_edges, c_red_hist, RED), (c_blue_edges, c_blue_hist, BLUE)], c_xticks, dens_yticks)
panel_d = dens_panel([-25.1, 292], [0, .0637], (942, 1567), (897, 1302),
                     [(d_red_x, d_red_y, RED), (d_blue_x, d_blue_y, BLUE)],
                     [(d_red_edges, d_red_hist, RED), (d_blue_edges, d_blue_hist, BLUE)], d_xticks, dens_yticks, box="#333333")
panel_e = dens_panel([-25, 287], [0, .0633], (1705, 2049), (843, 1064),
                     [(e_red_x, e_red_y, RED), (e_blue_x, e_blue_y, BLUE)],
                     [(e_red_edges, e_red_hist, RED), (e_blue_edges, e_blue_hist, BLUE)], box="#777777", boxw=1.5)
panel_f = dens_panel([-25, 287], [0, .0635], (1703, 2048), (1128, 1350),
                     [(f_red_x, f_red_y, RED), (f_blue_x, f_blue_y, BLUE)],
                     [(f_red_edges, f_red_hist, RED), (f_blue_edges, f_blue_hist, BLUE)], box="#888888", boxw=1.5)

SANS = "Liberation Sans"
DJ = "DejaVu Sans"
OS = "Open Sans"


def legend_dot(x, y, d, col):
    return alt.Chart(pd.DataFrame({"k": [0]})).mark_circle(color=col, opacity=0.75, size=d * d).encode(
        x=alt.value(px(x)), y=alt.value(py(y)))


decor = [
    hline_px(1005, 63, 1225, 422), hline_px(1005, 740, 1225, 546),
    rect_px(127, 1005, 63, 740, fill="transparent", stroke="#000000", strokeWidth=2),
    text_px("A", 47, 59, 37, SANS), text_px("B", 1090, 57, 37, SANS), text_px("C", 45, 854, 37, SANS),
    text_px("D", 799, 858, 37, SANS), text_px("E", 1640, 857, 37, SANS), text_px("F", 1640, 1136, 37, SANS),
    text_px("X1 (0.353)", 1576, 761, 37, OS, "#333333", "center"),
    text_px("X2 (0.138)", 1111, 383, 37, OS, "#333333", "center", 270),
    text_px("Distances to other samples", 473, 892, 33, DJ, "#000000", "center"),
    text_px("Distance between replicates", 1255, 886, 33, DJ, "#000000", "center"),
    text_px("Technical replicates", 1877, 836, 19, DJ, "#222222", "center"),
    text_px("Biological replicates", 1876, 1121, 19, DJ, "#222222", "center"),
    text_px("Probability Density", 100, 1101, 33, DJ, "#000000", "center", 270),
    text_px("Probability Density", 872, 1101, 33, DJ, "#000000", "center", 270),
    text_px("Distance", 473, 1362, 33, DJ, "#000000", "center"),
    text_px("Distance", 1255, 1367, 33, DJ, "#000000", "center"),
    # legend of panel D
    rect_px(1416, 1558, 907, 969, fill="#ffffff", stroke="#dddddd", strokeWidth=1.5, cornerRadius=3),
    rect_px(1424, 1461, 916, 929, color=RED, opacity=0.4),
    rect_px(1424, 1461, 943, 957, color=BLUE, opacity=0.4),
    text_px("Active", 1476, 929, 18, DJ), text_px("Inactive", 1476, 957, 18, DJ),
    # legend of panel B
    legend_dot(2032, 149, 13, BLUE), legend_dot(2032, 179, 13, RED),
    text_px("Inactive", 2055, 162, 29, SANS), text_px("Active", 2055, 215, 29, SANS),
    legend_dot(2037, 286, 23, RED), legend_dot(2037, 327, 16, RED), legend_dot(2037, 364, 10, RED), legend_dot(2037, 401, 5.5, RED),
    text_px("300", 2066, 295, 28, SANS), text_px("100", 2066, 333, 28, SANS), text_px("50", 2066, 373, 28, SANS), text_px("<10", 2066, 411, 28, SANS),
    text_px("Concentration", 2072, 465, 28, SANS, "#000000", "center"),
    text_px("(µM)", 2080, 503, 28, SANS, "#000000", "center"),
]

chart = alt.layer(panel_a, panel_b, panel_c, panel_d, panel_e, panel_f, *decor).resolve_scale(
    x="independent", y="independent", size="independent"
).resolve_axis(x="independent", y="independent").properties(
    width=W, height=H, padding=0, background="#ffffff",
    autosize=alt.AutoSizeParams(type="none", contains="content"),
).configure_view(strokeWidth=0)

chart.save("out.html", embed_options={"renderer": "svg", "actions": False})
